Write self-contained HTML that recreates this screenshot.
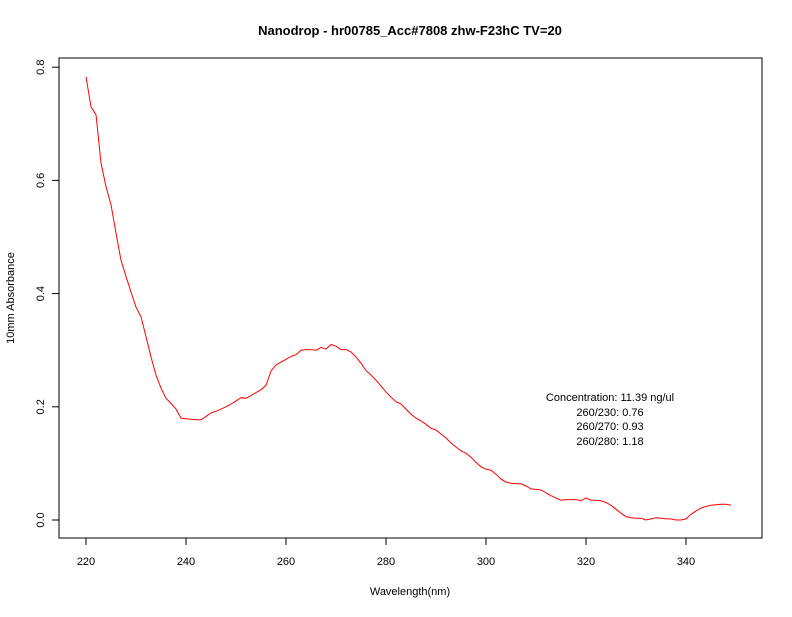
<!DOCTYPE html>
<html><head><meta charset="utf-8"><style>
body{margin:0;background:#fff}
svg text{font-family:"Liberation Sans",sans-serif;fill:#000}
</style></head><body>
<svg width="792" height="612" xmlns="http://www.w3.org/2000/svg">
<rect width="792" height="612" fill="#fff"/>
<text x="410" y="35" font-size="13" font-weight="bold" text-anchor="middle">Nanodrop - hr00785_Acc#7808 zhw-F23hC TV=20</text>
<rect x="59" y="58" width="703" height="480" fill="none" stroke="#000" stroke-width="1"/>
<g id="xaxis"></g>
<g id="yaxis"></g>
<text x="410" y="595" font-size="11" text-anchor="middle">Wavelength(nm)</text>
<text transform="translate(14,298) rotate(-90)" font-size="11" text-anchor="middle">10mm Absorbance</text>
<path id="curve" fill="none" stroke="#ff0000" stroke-width="1"/>
<g font-size="11" text-anchor="middle">
<text x="610" y="401">Concentration: 11.39 ng/ul</text>
<text x="610" y="416">260/230: 0.76</text>
<text x="610" y="430">260/270: 0.93</text>
<text x="610" y="445">260/280: 1.18</text>
</g>
</svg>
<script>
const wlStart = 220;
const absorbance = [0.783,0.730,0.716,0.631,0.589,0.557,0.507,0.459,0.430,0.403,0.376,0.359,0.324,0.288,0.256,0.233,0.215,0.206,0.196,0.180,
0.179,0.178,0.177,0.177,0.183,0.189,0.192,0.196,0.200,0.205,0.210,0.216,0.215,0.220,0.225,0.230,0.238,0.263,0.274,0.279,
0.284,0.289,0.292,0.300,0.301,0.301,0.300,0.305,0.302,0.310,0.307,0.301,0.301,0.297,0.288,0.277,0.264,0.256,0.247,0.237,
0.226,0.217,0.209,0.205,0.196,0.187,0.180,0.175,0.169,0.162,0.159,0.152,0.145,0.136,0.129,0.122,0.118,0.111,0.102,0.094,
0.090,0.088,0.081,0.072,0.067,0.065,0.064,0.064,0.060,0.055,0.054,0.053,0.048,0.043,0.039,0.035,0.036,0.036,0.036,0.034,
0.039,0.035,0.035,0.034,0.031,0.026,0.019,0.012,0.006,0.004,0.003,0.003,0.000,0.002,0.004,0.003,0.002,0.002,0.000,0.000,
0.002,0.010,0.016,0.021,0.024,0.026,0.027,0.028,0.028,0.026];
const xTicks = [220,240,260,280,300,320,340];
const yTicks = [0.0,0.2,0.4,0.6,0.8];
const yTickLabels = ["0.0","0.2","0.4","0.6","0.8"];
function xs(w){return 86+(w-220)*5;}
function ys(v){return 520-v*566;}
const NS="http://www.w3.org/2000/svg";
let d="";
absorbance.forEach((v,i)=>{d+=(i?"L":"M")+xs(wlStart+i).toFixed(1)+","+ys(v).toFixed(1);});
document.getElementById("curve").setAttribute("d",d);
const xg=document.getElementById("xaxis");
xTicks.forEach(t=>{
 const l=document.createElementNS(NS,"line");
 
 
 l.setAttribute("x1",xs(t));l.setAttribute("x2",xs(t));l.setAttribute("y1",538);l.setAttribute("y2",545);l.setAttribute("stroke","#000");
 xg.appendChild(l);
 const tx=document.createElementNS(NS,"text");
 
 
 tx.setAttribute("x",xs(t));tx.setAttribute("y",565);tx.setAttribute("font-size","11");tx.setAttribute("text-anchor","middle");
 tx.textContent=t;xg.appendChild(tx);
});
const yg=document.getElementById("yaxis");
yTicks.forEach((t,i)=>{
 const l=document.createElementNS(NS,"line");
 
 
 l.setAttribute("x1",52);l.setAttribute("x2",59);l.setAttribute("y1",ys(t));l.setAttribute("y2",ys(t));l.setAttribute("stroke","#000");
 yg.appendChild(l);
 const tx=document.createElementNS(NS,"text");
 
 
 tx.setAttribute("transform","translate(44,"+ys(t)+") rotate(-90)");tx.setAttribute("font-size","11");tx.setAttribute("text-anchor","middle");
 tx.textContent=yTickLabels[i];yg.appendChild(tx);
});
</script>
</body></html>
